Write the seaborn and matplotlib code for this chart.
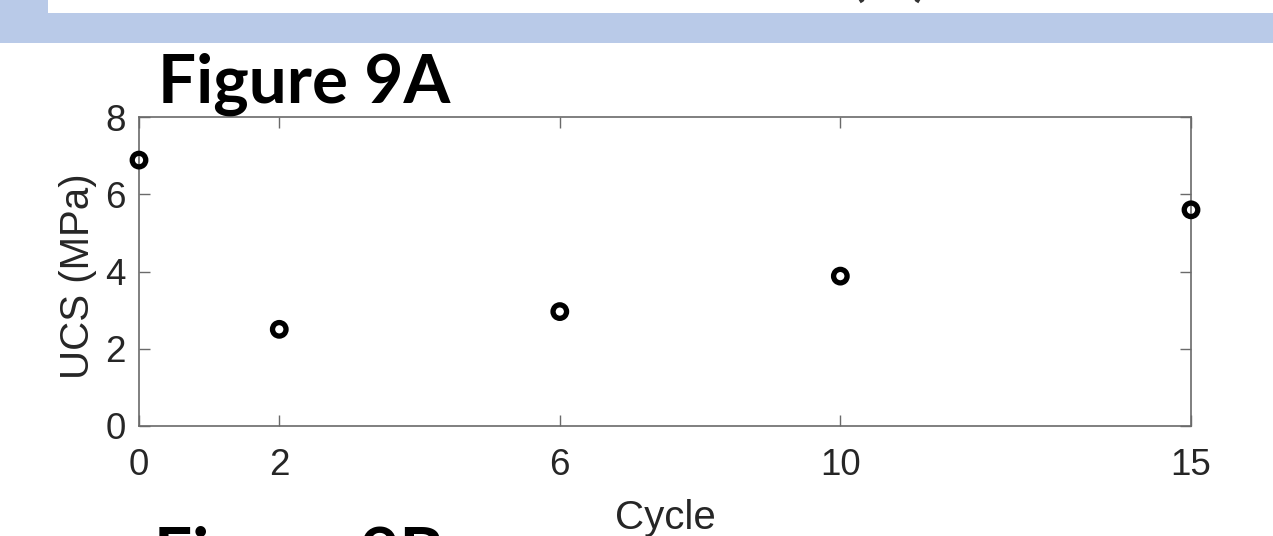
import matplotlib
matplotlib.use("Agg")
import matplotlib.pyplot as plt
import seaborn as sns
import pandas as pd
from matplotlib.patches import Rectangle

# ---- data ----
cycles = [0, 2, 6, 10, 15]
ucs_mpa = [6.89, 2.50, 2.96, 3.88, 5.60]
x_ticks = [0, 2, 6, 10, 15]
y_ticks = [0, 2, 4, 6, 8]
x_label = "Cycle"
y_label = "UCS (MPa)"
title_a = "Figure 9A"
title_b = "Figure 9B"
top_text = "(A)"

sns.set_style("white")
plt.rcParams['font.family'] = ['Liberation Sans', 'DejaVu Sans']

W, H = 1273, 536
fig = plt.figure(figsize=(W / 100, H / 100), dpi=100)
fig.patch.set_facecolor("white")

# slide header band
fig.add_artist(Rectangle((0, 1 - 43 / H), 1, 43 / H, transform=fig.transFigure,
                         facecolor="#B9CAE8", edgecolor="none", zorder=0))
fig.add_artist(Rectangle((48 / W, 1 - 13 / H), 1, 13 / H, transform=fig.transFigure,
                         facecolor="white", edgecolor="none", zorder=0.5))
fig.text(890 / W, 1 + 7 / H, top_text, family=['Lato', 'DejaVu Sans'], fontsize=50,
         ha="center", va="baseline", color="#333333", zorder=1)

ax = fig.add_axes([139 / W, 1 - 425.7 / H, (1191 - 139) / W, (425.7 - 117.3) / H])

df = pd.DataFrame({"Cycle": cycles, "UCS": ucs_mpa})
sns.scatterplot(data=df, x="Cycle", y="UCS", ax=ax, marker="o", s=95,
                facecolors="none", edgecolor="black", linewidth=3.8, zorder=5)
for coll in ax.collections:
    coll.set_facecolor("none")
    coll.set_clip_on(False)

ax.set_xlim(0, 15)
ax.set_ylim(0, 8)
ax.set_xticks(x_ticks)
ax.set_yticks(y_ticks)

for sp in ax.spines.values():
    sp.set_visible(True)
    sp.set_color("#6a6a6a")
    sp.set_linewidth(1.2)

ax.tick_params(axis="both", which="major", direction="in", length=8, width=1,
               color="#6a6a6a", labelsize=26.5, labelcolor="#262626",
               top=True, right=True, bottom=True, left=True)
ax.tick_params(axis="x", pad=16)
ax.tick_params(axis="y", pad=9.5)

ax.set_xlabel(x_label, fontsize=29, color="#262626")
ax.set_ylabel(y_label, fontsize=29, color="#262626")
ax.xaxis.set_label_coords(0.5, -0.2377)
ax.yaxis.set_label_coords(-0.0399, 0.485)
ax.xaxis.label.set_va("top")

fig.text(158 / W, 1 - 103 / H, title_a, family=['Lato', 'DejaVu Sans'], fontweight="bold",
         fontsize=48.5, ha="left", va="baseline", color="black", zorder=10)
fig.text(154 / W, 1 - 576 / H, title_b, family=['Lato', 'DejaVu Sans'], fontweight="bold",
         fontsize=48.5, ha="left", va="baseline", color="black", zorder=10)

fig.savefig("out.png", dpi=100)
